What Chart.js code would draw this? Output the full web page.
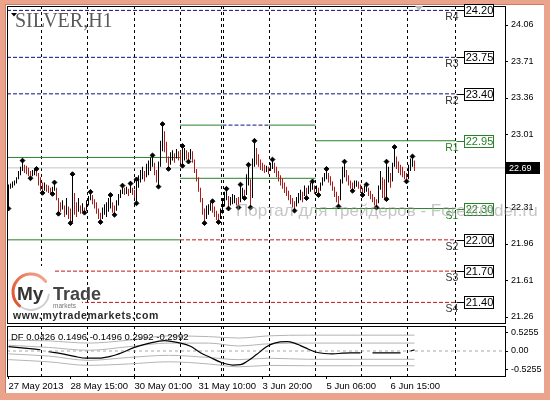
<!DOCTYPE html>
<html>
<head>
<meta charset="utf-8">
<script src="https://cdn.jsdelivr.net/npm/chart.js@4.4.0/dist/chart.umd.min.js"></script>
<style>
  html, body { margin: 0; padding: 0; background: #fff; }
  #wrap { position: relative; width: 550px; height: 400px; overflow: hidden; background: #fff; }
  #frame { position: absolute; left: 0; top: 0; width: 550px; height: 400px; box-sizing: border-box;
           border-style: solid; border-color: #EBA38B; border-width: 4px 6px 7px 5px;
           box-shadow: inset 1px 1px 0 #C97D66; }
  canvas { position: absolute; left: 0; top: 0; }
</style>
</head>
<body>
<div id="wrap">
  <div id="frame"></div>
  <canvas id="main" width="550" height="400"></canvas>
  <canvas id="ind" width="550" height="400"></canvas>
</div>
<script>
// ---------------- DATA ----------------
const symbolTitle = 'SILVER,H1';
const highs = [
  22.53, 22.54, 22.56, 22.57, 22.60, 22.66, 22.70, 22.76, 22.72, 22.71,
  22.69, 22.66, 22.67, 22.68, 22.68, 22.64, 22.60, 22.55, 22.55, 22.53,
  22.52, 22.50, 22.51, 22.55, 22.50, 22.40, 22.36, 22.38, 22.33, 22.40,
  22.32, 22.30, 22.63, 22.45, 22.36, 22.40, 22.33, 22.35, 22.31, 22.38,
  22.42, 22.46, 22.43, 22.39, 22.36, 22.30, 22.26, 22.31, 22.34, 22.36,
  22.40, 22.43, 22.36, 22.33, 22.38, 22.44, 22.48, 22.52, 22.50, 22.51,
  22.49, 22.54, 22.50, 22.48, 22.58, 22.62, 22.67, 22.70, 22.66, 22.73,
  22.76, 22.79, 22.81, 22.74, 22.67, 22.75, 22.95, 23.11, 23.04, 22.94,
  22.80, 22.84, 22.86, 22.83, 22.87, 22.85, 22.86, 22.90, 22.88, 22.86,
  22.84, 22.87, 22.85, 22.77, 22.68, 22.60, 22.50, 22.40, 22.30, 22.33,
  22.34, 22.36, 22.37, 22.32, 22.28, 22.25, 22.30, 22.40, 22.46, 22.49,
  22.42, 22.41, 22.44, 22.43, 22.40, 22.41, 22.53, 22.50, 22.48, 22.63,
  22.72, 22.58, 22.78, 22.95, 22.88, 22.82, 22.77, 22.74, 22.72, 22.71,
  22.70, 22.74, 22.77, 22.74, 22.70, 22.66, 22.62, 22.59, 22.55, 22.51,
  22.47, 22.43, 22.40, 22.37, 22.41, 22.45, 22.48, 22.46, 22.52, 22.50,
  22.52, 22.55, 22.56, 22.52, 22.52, 22.50, 22.55, 22.60, 22.64, 22.68,
  22.64, 22.61, 22.56, 22.51, 22.46, 22.42, 22.58, 22.70, 22.75, 22.67,
  22.62, 22.57, 22.55, 22.57, 22.57, 22.56, 22.53, 22.50, 22.52, 22.53,
  22.50, 22.47, 22.44, 22.41, 22.39, 22.52, 22.66, 22.60, 22.58, 22.75,
  22.70, 22.64, 22.74, 22.89, 22.80, 22.75, 22.72, 22.70, 22.66, 22.64,
  22.72, 22.78, 22.80, 22.76
];
const lows = [
  22.29, 22.49, 22.50, 22.52, 22.54, 22.58, 22.62, 22.66, 22.64, 22.63,
  22.61, 22.59, 22.61, 22.62, 22.61, 22.52, 22.47, 22.45, 22.47, 22.46,
  22.45, 22.44, 22.44, 22.47, 22.38, 22.25, 22.27, 22.29, 22.22, 22.24,
  22.20, 22.16, 22.17, 22.24, 22.22, 22.27, 22.25, 22.27, 22.26, 22.28,
  22.33, 22.38, 22.34, 22.30, 22.25, 22.20, 22.17, 22.20, 22.24, 22.22,
  22.27, 22.30, 22.26, 22.24, 22.28, 22.33, 22.40, 22.44, 22.43, 22.44,
  22.42, 22.45, 22.43, 22.40, 22.35, 22.50, 22.55, 22.58, 22.56, 22.60,
  22.62, 22.66, 22.70, 22.62, 22.55, 22.51, 22.70, 22.85, 22.84, 22.74,
  22.68, 22.72, 22.76, 22.74, 22.78, 22.76, 22.74, 22.71, 22.76, 22.77,
  22.75, 22.77, 22.74, 22.64, 22.56, 22.46, 22.36, 22.24, 22.16, 22.20,
  22.24, 22.28, 22.26, 22.22, 22.19, 22.17, 22.20, 22.25, 22.32, 22.38,
  22.30, 22.33, 22.34, 22.35, 22.33, 22.31, 22.36, 22.40, 22.40, 22.43,
  22.52, 22.31, 22.40, 22.70, 22.72, 22.70, 22.67, 22.66, 22.64, 22.65,
  22.63, 22.66, 22.68, 22.64, 22.60, 22.56, 22.52, 22.49, 22.45, 22.42,
  22.38, 22.34, 22.31, 22.28, 22.32, 22.35, 22.38, 22.36, 22.42, 22.40,
  22.44, 22.46, 22.48, 22.44, 22.45, 22.43, 22.47, 22.52, 22.56, 22.58,
  22.55, 22.52, 22.47, 22.41, 22.36, 22.32, 22.38, 22.54, 22.60, 22.56,
  22.52, 22.49, 22.47, 22.49, 22.51, 22.49, 22.45, 22.43, 22.45, 22.46,
  22.42, 22.39, 22.36, 22.33, 22.31, 22.35, 22.48, 22.40, 22.38, 22.39,
  22.55, 22.50, 22.56, 22.70, 22.68, 22.64, 22.62, 22.60, 22.58, 22.56,
  22.58, 22.66, 22.70, 22.66
];
const lastPrice = 22.69;

const fracHighIdx = [7, 14, 23, 32, 41, 51, 57, 61, 64, 72, 77, 87, 102, 109, 116, 120, 123, 132, 152, 159, 168, 179, 189, 193, 202];
const fracHighVal = [22.76, 22.68, 22.55, 22.63, 22.46, 22.43, 22.52, 22.54, 22.58, 22.81, 23.11, 22.90, 22.37, 22.49, 22.53, 22.72, 22.95, 22.77, 22.56, 22.68, 22.75, 22.53, 22.75, 22.89, 22.80];
const fracLowIdx = [0, 11, 17, 22, 25, 31, 38, 46, 53, 64, 75, 80, 87, 90, 98, 105, 110, 115, 118, 121, 143, 149, 155, 165, 172, 177, 184, 189, 199];
const fracLowVal = [22.30, 22.59, 22.45, 22.44, 22.25, 22.16, 22.26, 22.17, 22.24, 22.35, 22.51, 22.68, 22.71, 22.75, 22.16, 22.17, 22.30, 22.31, 22.40, 22.31, 22.28, 22.40, 22.43, 22.32, 22.47, 22.43, 22.31, 22.39, 22.56];

const priceTicks = [24.06, 23.71, 23.36, 23.01, 22.31, 21.96, 21.61, 21.26];

const pivotNames  = ['R4', 'R3', 'R2', 'R1', 'S1', 'S2', 'S3', 'S4'];
const pivotLevels = [24.20, 23.75, 23.40, 22.95, 22.30, 22.00, 21.70, 21.40];
const pivotStart  = [-0.75, -0.75, -0.75, 153.5, 153.5, 85.75, -0.75, -0.75];
const pivotEnd = 223.5;

const pastStart = [-0.75, 85.75, 107, 130.25];
const pastEnd   = [85.75, 107, 130.25, 153.5];
const pastR1    = [22.79, 23.10, 23.10, 23.10];
const pastS1    = [22.00, 22.59, 22.59, 22.59];
const pastR1Dashed = [false, false, true, false];

const gridIdx = [16.5, 39.5, 62.75, 85.75, 106.5, 107.5, 130.25, 153.5, 176.5, 199.5, 223.5];
const timeLabels = ['27 May 2013', '28 May 15:00', '30 May 01:00', '31 May 10:00', '3 Jun 20:00', '5 Jun 06:00', '6 Jun 15:00'];
const timeLabelIdx = [0, 31, 63, 95, 127, 159, 191];

const dfParams = [0.0426, 0.1496, -0.1496, 0.2992, -0.2992];
const dfIdx  = [0, 8, 16, 17, 20, 27, 33, 39, 45, 51, 57, 63, 70, 78, 86, 91, 96, 101, 106, 112, 116, 119, 124, 129, 133, 139, 143, 146, 150, 153, 158, 162, 167, 171, 176, 179, 182, 189, 196, 198, 201, 203];
const dfVals = [0.12, 0.08, 0.035, null, -0.02, -0.08, -0.15, -0.20, -0.20, -0.15, -0.04, 0.10, 0.21, 0.29, 0.22, 0.13, -0.05, -0.18, -0.31, -0.39, -0.38, -0.30, -0.10, 0.12, 0.22, 0.26, 0.22, 0.15, 0.05, -0.02, -0.07, -0.08, -0.06, -0.05, -0.05, null, -0.05, -0.05, -0.05, null, 0.0, 0.03];

const bandIdx = [0, 20, 40, 60, 80, 100, 115, 130, 150, 175, 203];
const bandUpperOuter = [0.30, 0.28, 0.22, 0.30, 0.42, 0.40, 0.36, 0.42, 0.44, 0.44, 0.44];
const bandUpperInner = [0.16, 0.10, 0.02, 0.12, 0.22, 0.22, 0.14, 0.20, 0.22, 0.22, 0.22];
const bandLowerInner = [-0.08, -0.14, -0.26, -0.18, -0.12, -0.18, -0.24, -0.20, -0.23, -0.23, -0.23];
const bandLowerOuter = [-0.24, -0.30, -0.40, -0.36, -0.30, -0.36, -0.44, -0.40, -0.41, -0.41, -0.41];
const indTicks = [0.5255, 0, -0.5255];

// ---------------- STYLE ----------------
const FONT = "'Liberation Sans', Arial, sans-serif";
const GREEN = '#2a802a', NAVY = '#101080', RED = '#c01818', UP = '#000000', DOWN = '#a81c1c';
const X_MIN = -0.75, X_MAX = 248.25;
Chart.defaults.font.family = FONT;

function seg(s, e, v, color, dash) {
  return { type: 'line', data: [{ x: s, y: v }, { x: e, y: v }], borderColor: color, borderWidth: 1,
           borderDash: dash, pointRadius: 0, fill: false, tension: 0 };
}

const barColors = highs.map((h, i) => i === 0 ? UP : ((h + lows[i]) >= (highs[i - 1] + lows[i - 1]) ? UP : DOWN));

const mainSets = [];
mainSets.push({
  type: 'line', showLine: false,
  data: fracHighIdx.map((x, k) => ({ x, y: fracHighVal[k] })).concat(fracLowIdx.map((x, k) => ({ x, y: fracLowVal[k] }))),
  pointStyle: 'rectRot', pointRadius: 2.4, pointBackgroundColor: '#000', pointBorderColor: '#000', pointBorderWidth: 1
});
mainSets.push({
  type: 'bar', data: highs.map((h, i) => ({ x: i, y: [lows[i], h] })),
  backgroundColor: barColors, borderWidth: 0, barThickness: 1, inflateAmount: 0
});
pivotNames.forEach((n, k) => {
  const isR = n[0] === 'R';
  const green = (n === 'R1' || n === 'S1');
  mainSets.push(seg(pivotStart[k], pivotEnd, pivotLevels[k], green ? GREEN : (isR ? NAVY : RED), green ? [] : [4, 2]));
});
pastStart.forEach((s, k) => {
  mainSets.push(seg(s, pastEnd[k], pastR1[k], pastR1Dashed[k] ? NAVY : GREEN, pastR1Dashed[k] ? [4, 2] : []));
  mainSets.push(seg(s, pastEnd[k], pastS1[k], GREEN, []));
});
mainSets.push(seg(X_MIN, X_MAX, lastPrice, '#c4c4c4', []));

const framePlugin = {
  id: 'frame',
  afterDraw(chart) {
    const a = chart.chartArea, c = chart.ctx;
    c.save(); c.strokeStyle = '#000'; c.lineWidth = 1; c.setLineDash([]);
    c.strokeRect(a.left + 0.5, a.top + 0.5, a.right - a.left, a.bottom - a.top);
    c.restore();
  }
};

function drawLogo(c) {
  c.save();
  c.fillStyle = '#fff';
  c.fillRect(8, 266, 45, 47);
  c.fillRect(53, 298, 29, 13);
  c.lineCap = 'round';
  c.strokeStyle = '#d0d0d0'; c.lineWidth = 2;
  c.beginPath(); c.arc(31, 292, 18, 0.05 * Math.PI, 0.7 * Math.PI); c.stroke();
  const g = c.createLinearGradient(12, 300, 50, 275);
  g.addColorStop(0, '#e2502c'); g.addColorStop(1, '#f4b39a');
  c.strokeStyle = g; c.lineWidth = 3;
  c.beginPath(); c.arc(31, 292, 18, 0.72 * Math.PI, 1.8 * Math.PI); c.stroke();
  c.fillStyle = '#333'; c.font = "bold 19px " + FONT; c.textBaseline = 'alphabetic'; c.textAlign = 'left';
  c.fillText('My', 17, 300);
  c.fillStyle = '#444'; c.font = "bold 18px " + FONT;
  c.fillText('Trade', 53, 300);
  c.fillStyle = '#777'; c.font = "6.5px " + FONT;
  c.fillText('markets', 53, 308);
  c.fillStyle = '#2a2a2a'; c.font = "bold 10.5px " + FONT;
  c.letterSpacing = '0.6px';
  c.fillText('www.mytrademarkets.com', 13, 319);
  c.restore();
}

const decoPlugin = {
  id: 'deco',
  afterDraw(chart) {
    const c = chart.ctx, xs = chart.scales.x, ys = chart.scales.y;
    drawLogo(c);
    c.save();
    const xe = Math.round(xs.getPixelForValue(pivotEnd)) + 0.5;
    pivotNames.forEach((name, k) => {
      const py = Math.round(ys.getPixelForValue(pivotLevels[k])) + 0.5;
      const green = (name === 'R1' || name === 'S1');
      const col = green ? GREEN : '#000';
      c.setLineDash([]); c.lineWidth = 1; c.strokeStyle = col;
      c.beginPath(); c.moveTo(xe, py); c.lineTo(464.5, py); c.stroke();
      c.fillStyle = '#fff'; c.fillRect(464.5, py - 6, 29, 12);
      c.strokeRect(464.5, py - 6, 29, 12);
      c.fillStyle = col; c.font = "11px " + FONT; c.textAlign = 'center'; c.textBaseline = 'middle';
      c.fillText(pivotLevels[k].toFixed(2), 479.5, py + 0.5);
      c.fillStyle = green ? GREEN : '#333'; c.font = "10.5px " + FONT;
      c.fillText(name, 452, py + 7);
    });
    const lp = ys.getPixelForValue(lastPrice);
    c.fillStyle = '#000'; c.fillRect(506, Math.round(lp) - 6, 34, 12);
    c.fillStyle = '#fff'; c.font = "9px " + FONT; c.textAlign = 'left'; c.textBaseline = 'middle';
    c.fillText(lastPrice.toFixed(2), 509, Math.round(lp) + 0.5);
    c.fillStyle = '#5a5a5a'; c.font = "20px 'Liberation Serif', 'Times New Roman', serif";
    c.textAlign = 'left'; c.textBaseline = 'alphabetic';
    c.fillText(symbolTitle, 15, 27);
    c.fillStyle = '#000';
    c.beginPath(); c.moveTo(11, 13); c.lineTo(17, 13); c.lineTo(14, 16.5); c.closePath(); c.fill();
    c.fillStyle = '#b8b8b8';
    c.beginPath(); c.moveTo(415, 6); c.lineTo(423, 6); c.lineTo(419, 11); c.closePath(); c.fill();
    c.fillStyle = 'rgba(150,150,150,0.55)'; c.font = "17px " + FONT;
    c.fillText('Портал для трейдеров - Forextrader.ru', 236, 216);
    c.restore();
  }
};

new Chart(document.getElementById('main'), {
  type: 'line',
  data: { datasets: mainSets },
  options: {
    responsive: false, animation: false, devicePixelRatio: 1, events: [],
    layout: { padding: { left: 7, top: 6, right: 0, bottom: 77 } },
    plugins: { legend: { display: false }, tooltip: { enabled: false } },
    scales: {
      x: {
        type: 'linear', min: X_MIN, max: X_MAX, offset: false, bounds: 'data',
        afterBuildTicks: s => { s.ticks = gridIdx.map(v => ({ value: v })); },
        afterFit: s => { s.height = 0; s.paddingLeft = 0; s.paddingRight = 0; },
        ticks: { display: false },
        grid: { color: '#000', lineWidth: 1, drawTicks: false, offset: false },
        border: { display: false, dash: [3, 3] }
      },
      y: {
        type: 'linear', position: 'right', min: 21.2025, max: 24.2422, bounds: 'data',
        afterBuildTicks: s => { s.ticks = priceTicks.map(v => ({ value: v })); },
        afterFit: s => { s.width = 45; s.paddingTop = 0; s.paddingBottom = 0; },
        ticks: { color: '#000', font: { family: FONT, size: 9 }, padding: 3, autoSkip: false,
                 callback: v => Number(v).toFixed(2) },
        grid: { drawOnChartArea: false, tickLength: 3, color: '#000' },
        border: { display: true, color: '#000' }
      }
    }
  },
  plugins: [framePlugin, decoPlugin]
});

// ---------------- INDICATOR ----------------
const bandSet = (vals) => ({
  type: 'line', xAxisID: 'x', data: bandIdx.map((x, k) => ({ x, y: vals[k] })),
  borderColor: '#b4b4b4', borderWidth: 1, pointRadius: 0, tension: 0.4, cubicInterpolationMode: 'monotone'
});
const indSets = [
  { type: 'line', xAxisID: 'x', data: dfIdx.map((x, k) => ({ x, y: dfVals[k] })), borderColor: '#000', borderWidth: 1.2,
    pointRadius: 0, tension: 0.4, cubicInterpolationMode: 'monotone', spanGaps: false },
  bandSet(bandUpperOuter), bandSet(bandUpperInner), bandSet(bandLowerInner), bandSet(bandLowerOuter),
  { type: 'line', xAxisID: 'x', data: [{ x: X_MIN, y: 0 }, { x: X_MAX, y: 0 }], borderColor: '#a8a8a8', borderWidth: 1,
    borderDash: [3, 3], pointRadius: 0 }
];

const indLabelPlugin = {
  id: 'indLabel',
  afterDraw(chart) {
    const c = chart.ctx;
    c.save(); c.fillStyle = '#000'; c.font = "9.5px " + FONT; c.textAlign = 'left'; c.textBaseline = 'alphabetic';
    c.fillText('DF ' + dfParams.join(' '), 11, 339.5);
    c.restore();
  }
};

new Chart(document.getElementById('ind'), {
  type: 'line',
  data: { datasets: indSets },
  options: {
    responsive: false, animation: false, devicePixelRatio: 1, events: [],
    layout: { padding: { left: 7, top: 326, right: 0, bottom: 0 } },
    plugins: { legend: { display: false }, tooltip: { enabled: false } },
    scales: {
      x: {
        type: 'linear', position: 'bottom', min: X_MIN, max: X_MAX, offset: false, bounds: 'data',
        afterBuildTicks: s => { s.ticks = timeLabelIdx.map(v => ({ value: v })); },
        afterFit: s => { s.height = 24; s.paddingLeft = 0; s.paddingRight = 0; },
        ticks: { autoSkip: false, maxRotation: 0, minRotation: 0, align: 'start', color: '#000',
                 font: { family: FONT, size: 9.5 }, padding: 2, callback: (v, i) => timeLabels[i] },
        grid: { drawOnChartArea: false, tickLength: 3, color: '#000', offset: false },
        border: { display: false }
      },
      xg: {
        type: 'linear', position: 'bottom', min: X_MIN, max: X_MAX, offset: false, bounds: 'data',
        afterBuildTicks: s => { s.ticks = gridIdx.map(v => ({ value: v })); },
        afterFit: s => { s.height = 0; s.paddingLeft = 0; s.paddingRight = 0; },
        ticks: { display: false },
        grid: { color: '#000', lineWidth: 1, drawTicks: false, offset: false },
        border: { display: false, dash: [3, 3] }
      },
      y: {
        type: 'linear', position: 'right', min: -0.6944, max: 0.6944, bounds: 'data',
        afterBuildTicks: s => { s.ticks = indTicks.map(v => ({ value: v })); },
        afterFit: s => { s.width = 45; s.paddingTop = 0; s.paddingBottom = 0; },
        ticks: { color: '#000', font: { family: FONT, size: 9 }, padding: 3, autoSkip: false,
                 callback: v => (v === 0 ? '0.00' : String(v)) },
        grid: { drawOnChartArea: false, tickLength: 3, color: '#000' },
        border: { display: true, color: '#000' }
      }
    }
  },
  plugins: [framePlugin, indLabelPlugin]
});
</script>
</body>
</html>
